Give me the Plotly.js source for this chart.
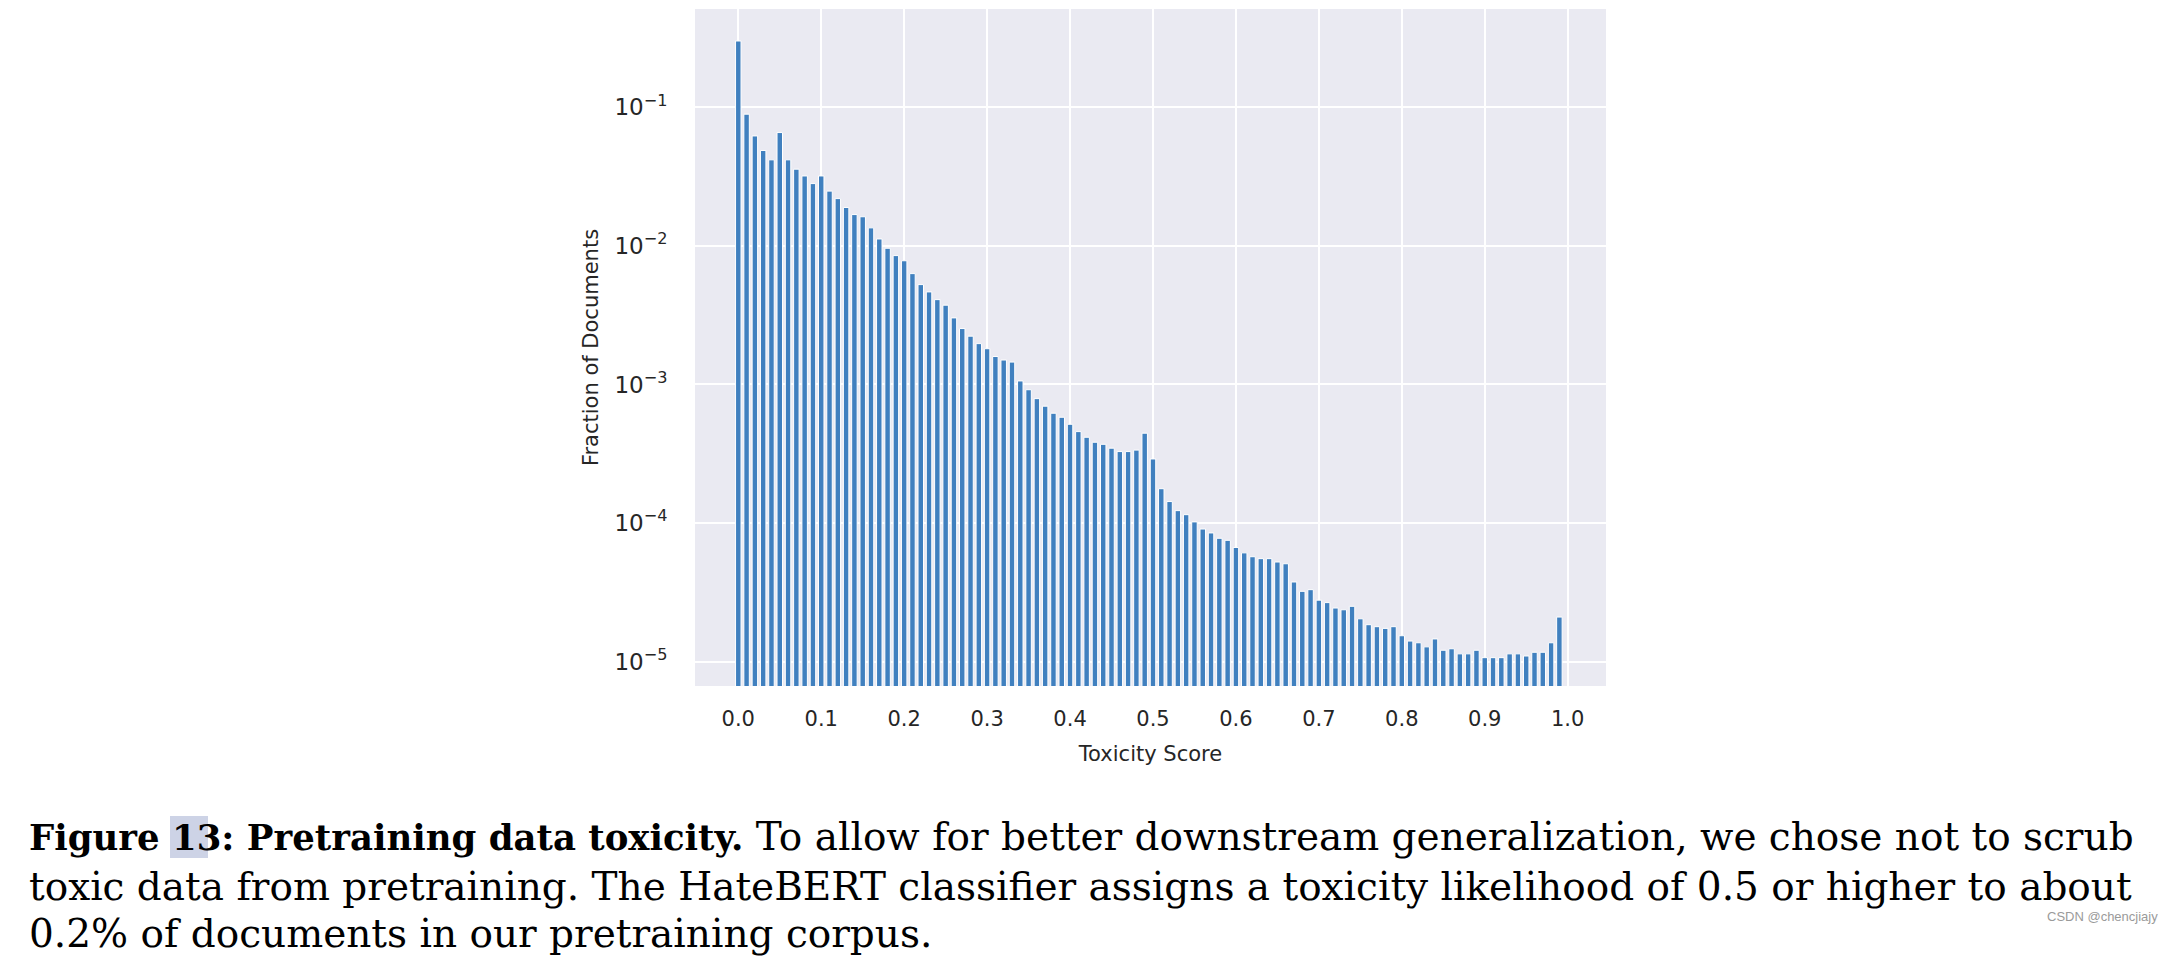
<!DOCTYPE html>
<html>
<head>
<meta charset="utf-8">
<script src="https://cdn.plot.ly/plotly-3.0.1.min.js"></script>
<style>
  html, body { margin: 0; padding: 0; background: #ffffff; }
  #chart { width: 2170px; height: 970px; }
</style>
</head>
<body>
<div id="chart"></div>
<script>
// ---- data ----
const toxicityScore = [
  0.00, 0.01, 0.02, 0.03, 0.04, 0.05, 0.06, 0.07, 0.08, 0.09,
  0.10, 0.11, 0.12, 0.13, 0.14, 0.15, 0.16, 0.17, 0.18, 0.19,
  0.20, 0.21, 0.22, 0.23, 0.24, 0.25, 0.26, 0.27, 0.28, 0.29,
  0.30, 0.31, 0.32, 0.33, 0.34, 0.35, 0.36, 0.37, 0.38, 0.39,
  0.40, 0.41, 0.42, 0.43, 0.44, 0.45, 0.46, 0.47, 0.48, 0.49,
  0.50, 0.51, 0.52, 0.53, 0.54, 0.55, 0.56, 0.57, 0.58, 0.59,
  0.60, 0.61, 0.62, 0.63, 0.64, 0.65, 0.66, 0.67, 0.68, 0.69,
  0.70, 0.71, 0.72, 0.73, 0.74, 0.75, 0.76, 0.77, 0.78, 0.79,
  0.80, 0.81, 0.82, 0.83, 0.84, 0.85, 0.86, 0.87, 0.88, 0.89,
  0.90, 0.91, 0.92, 0.93, 0.94, 0.95, 0.96, 0.97, 0.98, 0.99
];
const fractionOfDocuments = [
  0.30, 0.089, 0.062, 0.0487, 0.0417, 0.0656, 0.0417, 0.0357, 0.0319, 0.0281,
  0.0319, 0.0248, 0.0219, 0.0189, 0.0168, 0.0162, 0.01347, 0.0112, 0.0096, 0.0085,
  0.0078, 0.0063, 0.00525, 0.00465, 0.00409, 0.00373, 0.00302, 0.00253, 0.00223, 0.00197,
  0.00181, 0.00159, 0.00150, 0.00145, 0.00106, 0.000916, 0.00079, 0.000697, 0.00062, 0.00058,
  0.000516, 0.000457, 0.000416, 0.000383, 0.000370, 0.000347, 0.000328, 0.000328, 0.000336, 0.000445,
  0.00029, 0.000177, 0.000143, 0.000123, 0.000115, 0.000102, 0.0000906, 0.0000849, 0.0000777, 0.0000751,
  0.0000667, 0.000061, 0.0000572, 0.0000554, 0.0000554, 0.0000524, 0.0000509, 0.0000376, 0.0000322, 0.0000331,
  0.0000278, 0.0000267, 0.0000244, 0.0000237, 0.0000251, 0.0000204, 0.0000185, 0.0000179, 0.0000174, 0.0000179,
  0.0000154, 0.0000141, 0.0000137, 0.0000128, 0.0000146, 0.0000121, 0.0000124, 0.0000114, 0.0000114, 0.0000121,
  0.0000107, 0.0000107, 0.0000107, 0.0000114, 0.0000114, 0.0000110, 0.0000117, 0.0000117, 0.0000137, 0.0000210
];
const xTickVals = [0.0, 0.1, 0.2, 0.3, 0.4, 0.5, 0.6, 0.7, 0.8, 0.9, 1.0];
const xTickText = ["0.0", "0.1", "0.2", "0.3", "0.4", "0.5", "0.6", "0.7", "0.8", "0.9", "1.0"];
const yTickVals = [1e-1, 1e-2, 1e-3, 1e-4, 1e-5];
const yTickText = ["10<sup>\u22121</sup>", "10<sup>\u22122</sup>", "10<sup>\u22123</sup>", "10<sup>\u22124</sup>", "10<sup>\u22125</sup>"];
const xTitle = "Toxicity Score";
const yTitle = "Fraction of Documents";
const captionBold = "Figure 13: Pretraining data toxicity.";
const captionLines = [
  " To allow for better downstream generalization, we chose not to scrub",
  "toxic data from pretraining. The HateBERT classifier assigns a toxicity likelihood of 0.5 or higher to about",
  "0.2% of documents in our pretraining corpus."
];
const watermark = "CSDN @chencjiajy";

// ---- layout geometry (pixels) ----
const W = 2170, H = 970;
const plotL = 695, plotR = 1606, plotT = 9, plotB = 686;
const px2x = px => (px - plotL) / (plotR - plotL);
const py2y = py => (plotB - py) / (plotB - plotT);

const textColor = "#262626";
const chartFont = "DejaVu Sans, sans-serif";
const serif = "DejaVu Serif, Liberation Serif, serif";

const trace = {
  type: "bar",
  x: toxicityScore,
  y: fractionOfDocuments,
  width: 0.0066,
  marker: { color: "#4080bf", line: { color: "#ffffff", width: 1 } },
  hoverinfo: "x+y"
};

const captionY = [836, 886, 934];
const captionTexts = [
  '<span style="font-size:35.5px"><b>' + captionBold + '</b></span>' + captionLines[0],
  captionLines[1],
  captionLines[2]
];
const annotations = captionTexts.map((t, i) => ({
  text: t, xref: "paper", yref: "paper",
  x: px2x(27), y: py2y(captionY[i]), xanchor: "left", yanchor: "middle",
  showarrow: false, font: { family: serif, size: 39, color: "#000000" }
}));
annotations.push({
  text: watermark, xref: "paper", yref: "paper",
  x: px2x(2160), y: py2y(916), xanchor: "right", yanchor: "middle",
  showarrow: false, font: { family: "Liberation Sans, sans-serif", size: 13, color: "#9a9a9a" }
});

const layout = {
  width: W, height: H,
  margin: { l: plotL, r: W - plotR, t: plotT, b: H - plotB, pad: 0 },
  paper_bgcolor: "#ffffff",
  plot_bgcolor: "#eaeaf2",
  showlegend: false,
  font: { family: chartFont, color: textColor },
  xaxis: {
    range: [-0.0522, 1.0462],
    tickmode: "array", tickvals: xTickVals, ticktext: xTickText,
    ticks: "outside", ticklen: 14, tickcolor: "rgba(0,0,0,0)",
    tickfont: { family: chartFont, size: 21, color: textColor },
    showgrid: true, gridcolor: "#ffffff", gridwidth: 2,
    zeroline: false, showline: false,
    title: { text: xTitle, font: { family: chartFont, size: 21, color: textColor }, standoff: 16 }
  },
  yaxis: {
    type: "log",
    range: [-5.175, -0.292],
    tickmode: "array", tickvals: yTickVals, ticktext: yTickText,
    ticks: "outside", ticklen: 22, tickcolor: "rgba(0,0,0,0)",
    tickfont: { family: chartFont, size: 23, color: textColor },
    showgrid: true, gridcolor: "#ffffff", gridwidth: 2,
    zeroline: false, showline: false,
    title: { text: yTitle, font: { family: chartFont, size: 21, color: textColor }, standoff: 10 }
  },
  shapes: [{
    type: "rect", xref: "paper", yref: "paper", layer: "below",
    x0: px2x(170), x1: px2x(208), y0: py2y(858), y1: py2y(816),
    fillcolor: "#cdd3e6", line: { width: 0 }
  }],
  annotations: annotations
};

Plotly.newPlot("chart", [trace], layout, { displayModeBar: false, staticPlot: true });
</script>
</body>
</html>
